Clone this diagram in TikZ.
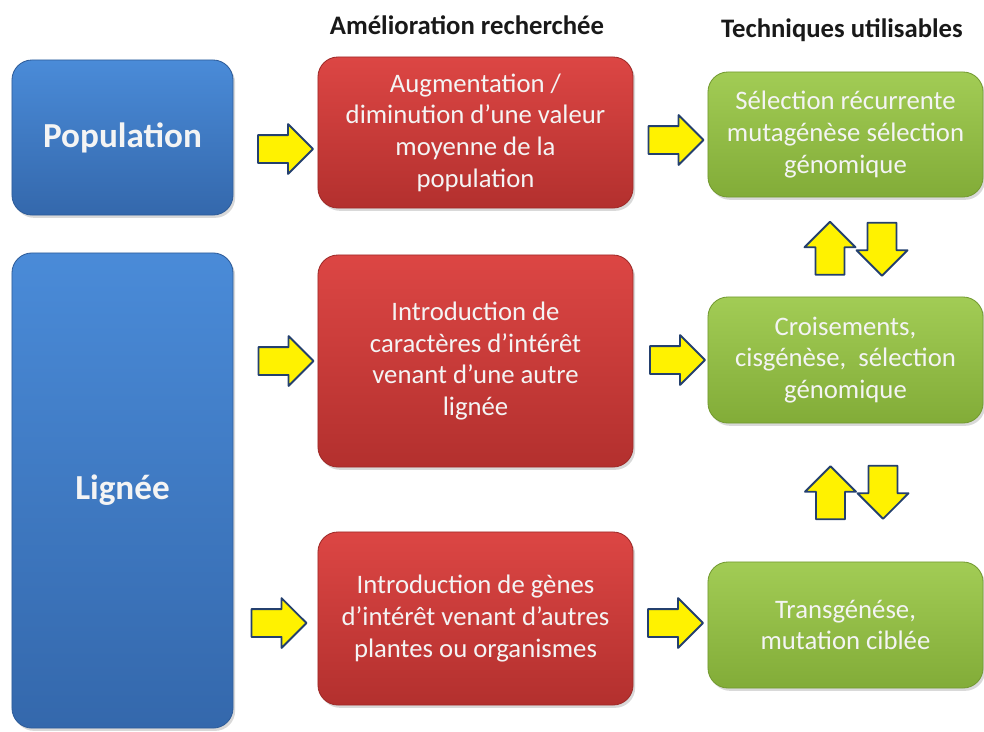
\documentclass[tikz,border=0pt]{standalone}
\usepackage{fontspec}
\setmainfont{Carlito}
\usetikzlibrary{shapes.arrows,shadows}
\definecolor{bluetop}{HTML}{4A8BD8}
\definecolor{bluebot}{HTML}{3468AC}
\definecolor{blueedge}{HTML}{2E5C99}
\definecolor{redtop}{HTML}{DC4644}
\definecolor{redbot}{HTML}{B3302E}
\definecolor{rededge}{HTML}{9E2A28}
\definecolor{greentop}{HTML}{A2CC55}
\definecolor{greenbot}{HTML}{82AC38}
\definecolor{greenedge}{HTML}{739A31}
\definecolor{arrowedge}{HTML}{24406E}
\definecolor{boxtext}{HTML}{F4F4F4}
\tikzset{
  every picture/.style={line join=round, line cap=round},
  box/.style={rounded corners=0.5cm, align=center, text=boxtext, line width=0.6pt,
    font=\fontsize{19}{22.5}\selectfont, inner sep=0pt,
    drop shadow={opacity=0.3, shadow xshift=1.5pt, shadow yshift=-2pt}},
  bluebox/.style={box, top color=bluetop, bottom color=bluebot, draw=blueedge,
    minimum width=5.525cm, font=\fontsize{25}{30}\selectfont\bfseries},
  redbox/.style={box, top color=redtop, bottom color=redbot, draw=rededge,
    minimum width=7.875cm},
  greenbox/.style={box, top color=greentop, bottom color=greenbot, draw=greenedge,
    minimum width=6.875cm},
  header/.style={font=\fontsize{19}{23}\selectfont\bfseries, text=black!90},
  blockarrow/.style={single arrow, draw=arrowedge, fill=yellow, line width=1.3pt,
    minimum height=1.375cm, minimum width=1.2cm, single arrow head extend=0.275cm,
    inner xsep=0pt, inner ysep=0.325cm},
  uparrow/.style={blockarrow, shape border rotate=90, minimum width=1.25cm,
    minimum height=1.325cm, inner xsep=0.34cm, inner ysep=0pt},
  downarrow/.style={uparrow, shape border rotate=270},
}
\begin{document}
\begin{tikzpicture}[x=0.025cm,y=-0.025cm]
\useasboundingbox (0,0) rectangle (984,731);
% headers
\node[header] (hamel) at (467,25) {Amélioration recherchée};
\node[header] (htech) at (842,30) {Techniques utilisables};
% left column
\node[bluebox,minimum height=3.875cm] (pop) at (122.5,137.5) {Population};
\node[bluebox,minimum height=11.875cm] (lig) at (122.5,490.5) {Lignée};
% middle column
\node[redbox,minimum height=3.775cm] (amel1) at (475.5,132.5)
  {Augmentation /\\diminution d’une valeur\\moyenne de la\\population};
\node[redbox,minimum height=5.3cm] (amel2) at (475.5,361)
  {Introduction de\\caractères d’intérêt\\venant d’une autre\\lignée};
\node[redbox,minimum height=4.325cm] (amel3) at (475.5,618.5)
  {Introduction de gènes\\d’intérêt venant d’autres\\plantes ou organismes};
% right column
\node[greenbox,minimum height=3.125cm] (tech1) at (845.5,134.5)
  {Sélection récurrente\\mutagénèse sélection\\génomique};
\node[greenbox,minimum height=3.15cm] (tech2) at (845.5,360)
  {Croisements,\\cisgénèse,~ sélection\\génomique};
\node[greenbox,minimum height=3.15cm] (tech3) at (845.5,625)
  {Transgénése,\\mutation ciblée};
% block arrows
\node[blockarrow] (pa1) at (278.5,149) {};
\node[blockarrow] (pa2) at (279,361) {};
\node[blockarrow] (pa3) at (272,623) {};
\node[blockarrow] (ta1) at (669,140) {};
\node[blockarrow] (ta2) at (670.5,360) {};
\node[blockarrow] (ta3) at (668.5,623) {};
\node[uparrow] (up1) at (830,255.5) {};
\node[downarrow] (dn1) at (882,242) {};
\node[uparrow] (up2) at (830.5,500) {};
\node[downarrow] (dn2) at (883,485) {};
\end{tikzpicture}
\end{document}
